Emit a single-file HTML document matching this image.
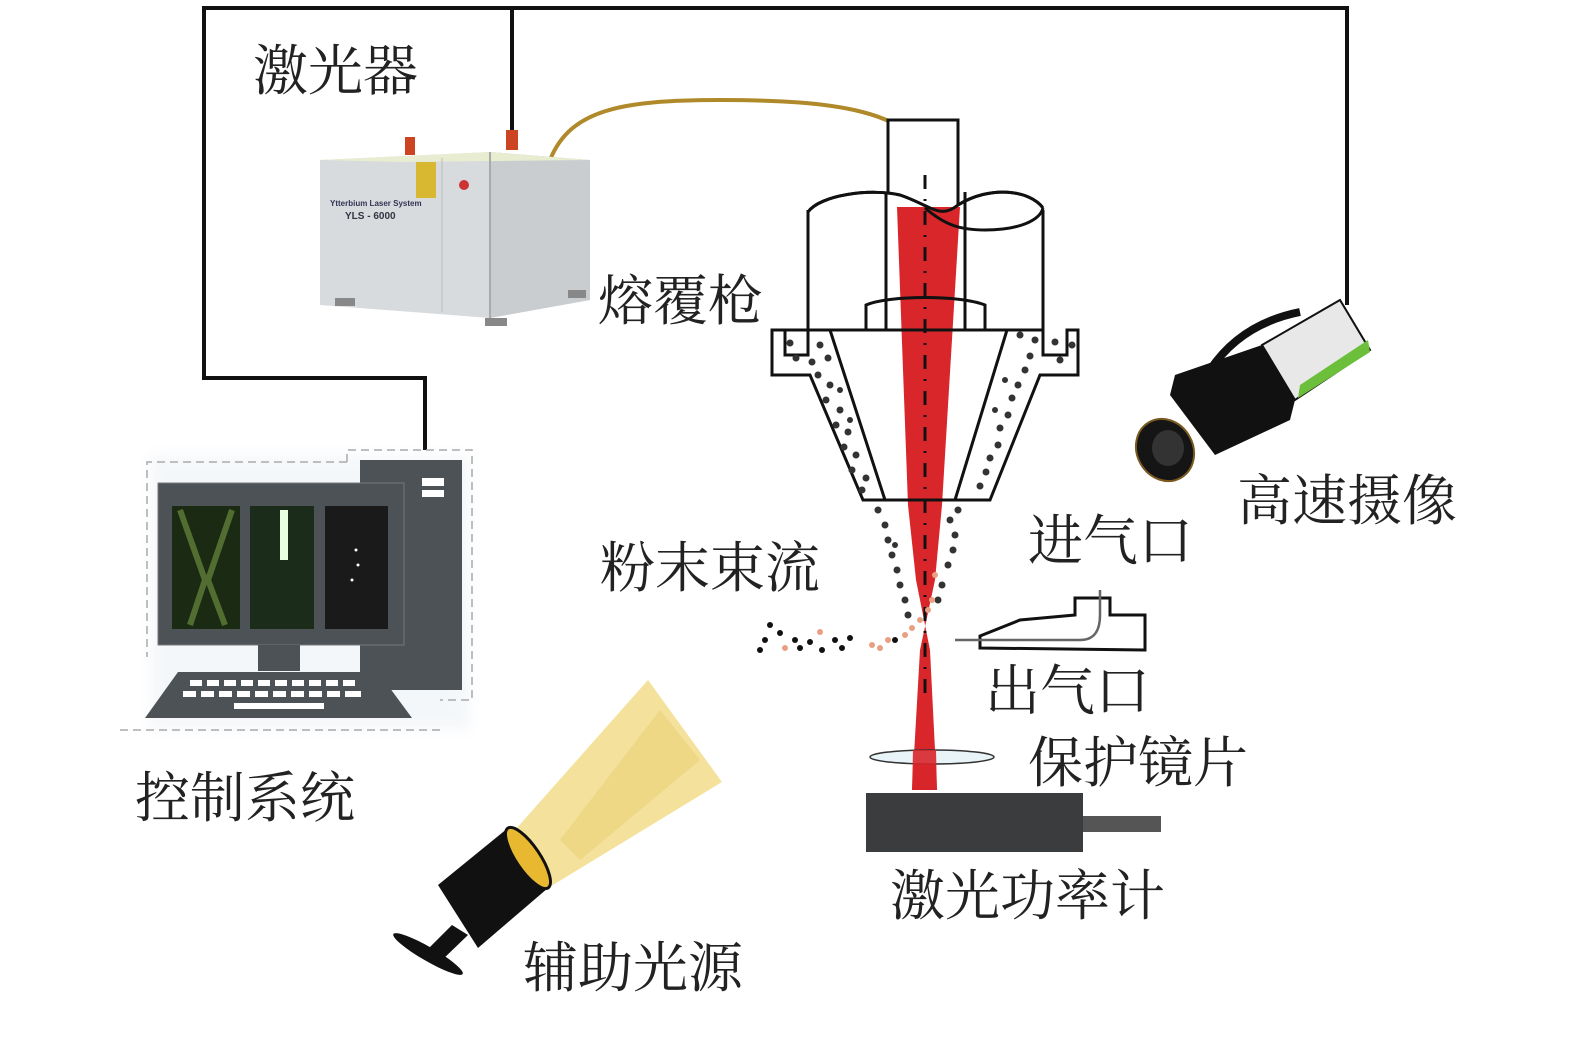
<!DOCTYPE html>
<html><head><meta charset="utf-8"><style>
html,body{margin:0;padding:0;background:#fff}
svg{display:block}
text{font-family:"Liberation Serif","Noto Serif CJK SC","Noto Sans CJK SC",serif;fill:#222;font-size:55px}
</style></head><body>
<svg width="1575" height="1043" viewBox="0 0 1575 1043" xmlns="http://www.w3.org/2000/svg">
<defs>
<filter id="glow" x="-10%" y="-10%" width="120%" height="120%"><feGaussianBlur stdDeviation="6"/></filter>
</defs>
<!-- wires -->
<polyline points="425,450 425,378 204,378 204,8 1347,8 1347,305" fill="none" stroke="#111" stroke-width="4"/>
<line x1="512" y1="8" x2="512" y2="132" stroke="#111" stroke-width="4"/>
<!-- fiber -->
<path d="M550,160 C570,110 620,100 720,100 C830,100 920,110 925,165" fill="none" stroke="#b08a2a" stroke-width="4"/>

<!-- laser box -->
<polygon points="320,160 490,152 590,160 590,300 490,318 320,305" fill="#d8dbdd"/>
<polygon points="490,152 590,160 590,300 490,318" fill="#c9cdd0"/>
<polygon points="320,160 490,152 590,160 400,162" fill="#e8ecd0"/>
<line x1="490" y1="152" x2="490" y2="318" stroke="#aaa" stroke-width="2"/>
<line x1="442" y1="158" x2="442" y2="312" stroke="#bbb" stroke-width="1"/>
<rect x="405" y="137" width="10" height="18" fill="#c42"/>
<rect x="506" y="130" width="12" height="20" fill="#c42"/>
<rect x="416" y="162" width="20" height="36" fill="#d8b830"/>
<circle cx="464" cy="185" r="5" fill="#c33"/>
<text x="330" y="206" style="font-size:8px;font-family:'Liberation Sans',sans-serif;font-weight:bold;fill:#335">Ytterbium Laser System</text>
<text x="345" y="219" style="font-size:10px;font-family:'Liberation Sans',sans-serif;font-weight:bold;fill:#334">YLS - 6000</text>
<rect x="335" y="298" width="20" height="8" fill="#888"/>
<rect x="485" y="318" width="22" height="8" fill="#888"/>
<rect x="568" y="290" width="18" height="8" fill="#888"/>

<!-- computer -->
<g filter="url(#glow)" opacity="0.15"><rect x="150" y="455" width="320" height="275" fill="#bcd"/></g>
<polyline points="347,462 347,450 472,450 472,700 440,700" fill="none" stroke="#aaa" stroke-width="1.5" stroke-dasharray="8,5"/>
<polyline points="347,462 147,462 147,657" fill="none" stroke="#aaa" stroke-width="1.5" stroke-dasharray="8,5"/>
<polyline points="120,730 440,730" fill="none" stroke="#aaa" stroke-width="1.5" stroke-dasharray="8,5"/>
<rect x="360" y="460" width="102" height="230" fill="#4d5257"/>
<rect x="422" y="478" width="22" height="8" fill="#fff"/><rect x="422" y="490" width="22" height="7" fill="#fff"/>
<rect x="158" y="483" width="246" height="162" fill="#4d5257" stroke="#777"/>
<rect x="172" y="506" width="68" height="123" fill="#1b2a12"/>
<path d="M180,510 L205,580 L190,625 M232,510 L208,580 L225,625" stroke="#6a8a40" stroke-width="6" fill="none" opacity="0.7"/>
<rect x="250" y="506" width="64" height="123" fill="#1b2d1a"/>
<rect x="280" y="510" width="8" height="50" fill="#e8ffe0"/>
<rect x="325" y="506" width="63" height="123" fill="#1a1a1a"/>
<circle cx="356" cy="550" r="1.5" fill="#fff"/><circle cx="358" cy="565" r="1.5" fill="#fff"/><circle cx="352" cy="580" r="1.5" fill="#fff"/>
<rect x="258" y="645" width="42" height="26" fill="#4d5257"/>
<polygon points="178,672 378,672 412,718 145,718" fill="#4d5257"/>
<g fill="#fff">
<rect x="190" y="680" width="12" height="6"/><rect x="207" y="680" width="12" height="6"/><rect x="224" y="680" width="12" height="6"/><rect x="241" y="680" width="12" height="6"/><rect x="258" y="680" width="12" height="6"/><rect x="275" y="680" width="12" height="6"/><rect x="292" y="680" width="12" height="6"/><rect x="309" y="680" width="12" height="6"/><rect x="326" y="680" width="12" height="6"/><rect x="343" y="680" width="12" height="6"/>
<rect x="183" y="691" width="13" height="6"/><rect x="201" y="691" width="13" height="6"/><rect x="219" y="691" width="13" height="6"/><rect x="237" y="691" width="13" height="6"/><rect x="255" y="691" width="13" height="6"/><rect x="273" y="691" width="13" height="6"/><rect x="291" y="691" width="13" height="6"/><rect x="309" y="691" width="13" height="6"/><rect x="327" y="691" width="13" height="6"/><rect x="345" y="691" width="16" height="6"/>
<rect x="234" y="703" width="90" height="6"/>
</g>

<!-- nozzle -->
<rect x="888" y="120" width="70" height="100" fill="#fff" stroke="#111" stroke-width="3"/>
<path d="M808,212 C820,195 870,188 900,195 C930,205 940,220 958,205 C990,185 1030,190 1043,208" fill="#fff" stroke="#111" stroke-width="3"/>
<rect x="808" y="210" width="235" height="120" fill="#fff"/>
<path d="M808,210 L808,330 L1043,330 L1043,210" fill="none" stroke="#111" stroke-width="3"/>
<line x1="886" y1="192" x2="886" y2="330" stroke="#111" stroke-width="3"/>
<line x1="965" y1="192" x2="965" y2="330" stroke="#111" stroke-width="3"/>
<!-- beam -->
<polygon points="897,207 960,207 942,505 935,580 920,650 912,790 937,790 930,650 916,580 908,505" fill="#d8262a"/>
<path d="M808,212 C820,195 870,188 900,195 C930,205 940,220 958,205 C990,185 1030,190 1043,208" fill="none" stroke="#111" stroke-width="3"/>
<path d="M925,208 C945,225 960,230 985,230 C1020,230 1040,220 1043,208" fill="none" stroke="#111" stroke-width="3"/>
<path d="M866,330 L866,305 C890,295 960,295 985,305 L985,330" fill="none" stroke="#111" stroke-width="3"/>
<!-- cone -->
<path d="M772,330 L772,375 L810,375 L863,500 L990,500 L1040,375 L1078,375 L1078,330 L1067,330 L1067,355 L1043,355 L1043,330 Z" fill="none" stroke="#111" stroke-width="3"/>
<path d="M808,330 L808,355 L785,355 L785,330" fill="none" stroke="#111" stroke-width="3"/>
<line x1="830" y1="330" x2="885" y2="500" stroke="#111" stroke-width="3"/>
<line x1="1007" y1="330" x2="955" y2="500" stroke="#111" stroke-width="3"/>
<line x1="925" y1="175" x2="925" y2="700" stroke="#111" stroke-width="3" stroke-dasharray="14,10,2,10"/>
<g fill="#333">
<circle cx="790" cy="343" r="3.5"/><circle cx="796" cy="358" r="3.5"/><circle cx="812" cy="362" r="3.5"/><circle cx="820" cy="345" r="3.5"/><circle cx="828" cy="358" r="3.5"/>
<circle cx="818" cy="375" r="3.5"/><circle cx="830" cy="385" r="3.5"/><circle cx="826" cy="400" r="3.5"/><circle cx="840" cy="410" r="3.5"/><circle cx="836" cy="425" r="3.5"/><circle cx="848" cy="432" r="3.5"/><circle cx="844" cy="447" r="3.5"/><circle cx="856" cy="455" r="3.5"/><circle cx="852" cy="470" r="3.5"/><circle cx="866" cy="478" r="3.5"/><circle cx="862" cy="490" r="3.5"/><circle cx="840" cy="390" r="3"/><circle cx="850" cy="420" r="3"/>
<circle cx="1035" cy="340" r="3.5"/><circle cx="1030" cy="356" r="3.5"/><circle cx="1055" cy="342" r="3.5"/><circle cx="1072" cy="345" r="3.5"/><circle cx="1060" cy="360" r="3.5"/>
<circle cx="1020" cy="335" r="3.5"/><circle cx="1025" cy="370" r="3.5"/><circle cx="1018" cy="385" r="3.5"/><circle cx="1012" cy="398" r="3.5"/><circle cx="1008" cy="415" r="3.5"/><circle cx="1000" cy="428" r="3.5"/><circle cx="998" cy="445" r="3.5"/><circle cx="990" cy="458" r="3.5"/><circle cx="986" cy="472" r="3.5"/><circle cx="980" cy="486" r="3.5"/><circle cx="1005" cy="380" r="3"/><circle cx="995" cy="410" r="3"/>
<circle cx="878" cy="510" r="3.5"/><circle cx="885" cy="525" r="3.5"/><circle cx="888" cy="540" r="3.5"/><circle cx="892" cy="555" r="3.5"/><circle cx="897" cy="570" r="3.5"/><circle cx="900" cy="585" r="3.5"/><circle cx="905" cy="600" r="3.5"/><circle cx="908" cy="615" r="3.5"/><circle cx="895" cy="545" r="3"/>
<circle cx="958" cy="510" r="3.5"/><circle cx="950" cy="520" r="3.5"/><circle cx="955" cy="535" r="3.5"/><circle cx="953" cy="550" r="3.5"/><circle cx="948" cy="565" r="3.5"/><circle cx="942" cy="585" r="3.5"/><circle cx="938" cy="600" r="3.5"/>
</g>
<g fill="#111"><circle cx="770" cy="625" r="3"/><circle cx="765" cy="640" r="3"/><circle cx="760" cy="650" r="3"/><circle cx="780" cy="633" r="3"/><circle cx="795" cy="640" r="3"/><circle cx="800" cy="648" r="3"/><circle cx="810" cy="642" r="3"/><circle cx="822" cy="650" r="3"/><circle cx="835" cy="640" r="3"/><circle cx="842" cy="648" r="3"/><circle cx="850" cy="638" r="3"/><circle cx="895" cy="640" r="3"/></g>
<g fill="#e8a080"><circle cx="785" cy="648" r="3"/><circle cx="820" cy="632" r="3"/><circle cx="872" cy="645" r="3"/><circle cx="880" cy="648" r="3"/><circle cx="888" cy="640" r="3"/><circle cx="905" cy="635" r="3"/><circle cx="912" cy="628" r="3"/><circle cx="920" cy="620" r="3"/><circle cx="932" cy="600" r="3"/><circle cx="935" cy="575" r="3"/><circle cx="928" cy="610" r="3"/></g>

<!-- gas port -->
<path d="M980,648 L980,636 L1020,620 L1075,615 L1075,598 L1110,598 L1110,615 L1145,615 L1145,650 Z" fill="none" stroke="#111" stroke-width="3"/>
<path d="M955,640 L1080,640 C1095,640 1100,630 1100,615 L1100,590" fill="none" stroke="#666" stroke-width="2.5"/>
<!-- protective lens & meter -->
<ellipse cx="932" cy="757" rx="62" ry="7" fill="#e8f4f8" stroke="#333" stroke-width="1.5"/>
<polygon points="913,750 936,750 937,790 912,790" fill="#d8262a" opacity="0.9"/>
<rect x="866" y="793" width="217" height="59" fill="#3a3c3e"/>
<rect x="1083" y="816" width="78" height="16" fill="#555"/>

<!-- light source -->
<polygon points="515,830 648,680 722,782 548,888" fill="#f2dc8a" opacity="0.85"/>
<polygon points="560,840 660,710 700,760 580,860" fill="#e8cd70" opacity="0.5"/>
<polygon points="508,828 548,888 478,948 438,885" fill="#111"/>
<ellipse cx="528" cy="858" rx="12" ry="36" transform="rotate(-34 528 858)" fill="#e8b830" stroke="#111" stroke-width="3"/>
<polygon points="452,925 468,935 440,962 425,952" fill="#111"/>
<ellipse cx="428" cy="954" rx="40" ry="7" transform="rotate(30 428 954)" fill="#111"/>

<!-- camera -->
<path d="M1210,370 C1230,340 1260,320 1300,312" fill="none" stroke="#111" stroke-width="8"/>
<polygon points="1262,345 1340,300 1370,350 1295,400" fill="#e8e8e8" stroke="#111" stroke-width="2"/>
<polygon points="1300,385 1368,340 1370,352 1298,398" fill="#6cbf3a"/>
<polygon points="1175,375 1262,345 1295,400 1290,420 1215,455 1170,395" fill="#111"/>
<ellipse cx="1165" cy="450" rx="28" ry="32" transform="rotate(-30 1165 450)" fill="#151515" stroke="#7a5a20" stroke-width="2"/>
<ellipse cx="1168" cy="448" rx="16" ry="18" fill="#333"/>

<!-- labels -->
<text x="253" y="90">激光器</text>
<text x="598" y="320">熔覆枪</text>
<text x="1237" y="520">高速摄像</text>
<text x="600" y="587">粉末束流</text>
<text x="1028" y="560">进气口</text>
<text x="985" y="710">出气口</text>
<text x="1028" y="782">保护镜片</text>
<text x="135" y="817">控制系统</text>
<text x="890" y="915">激光功率计</text>
<text x="523" y="987">辅助光源</text>
</svg>
</body></html>
